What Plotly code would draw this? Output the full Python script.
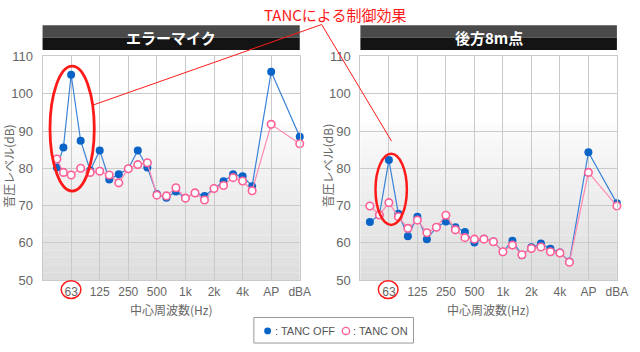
import plotly.graph_objects as go

# ---------------- data ----------------
tick_pos = [1, 2, 3, 4, 5, 6, 7, 8, 9]
tick_labels = ["63", "125", "250", "500", "1k", "2k", "4k", "AP", "dBA"]

# band positions (1 unit = 1 octave column; 63 Hz = 1, AP = 8, dBA = 9)
third = [1 + k / 3 for k in range(20)]          # 63 Hz .. 5 kHz
left_pos = [0.5, 0.73] + third + [8, 9]
right_pos = [1 / 3, 2 / 3] + third + [8, 9]

left_off = [80.2, 85.6, 105.1, 87.4, 79.4, 84.8, 77.0, 78.4, 79.9, 84.8, 80.2, 73.1,
            72.1, 73.8, 72.0, 73.4, 72.6, 74.6, 76.5, 78.4, 77.9, 75.2, 105.9, 88.5]
left_on = [82.5, 78.9, 78.2, 80.0, 78.9, 79.2, 78.2, 76.1, 79.9, 81.0, 81.5, 72.8,
           72.6, 74.8, 72.0, 73.4, 71.5, 74.6, 75.4, 77.5, 76.6, 74.0, 91.8, 86.6]

right_off = [65.6, 67.5, 82.2, 67.8, 61.8, 67.0, 61.0, 64.2, 65.7, 64.2, 62.9, 60.1,
             61.1, 60.4, 57.6, 60.6, 56.7, 58.8, 59.8, 58.4, 57.4, 55.0, 84.3, 70.6]
right_on = [69.9, 67.5, 70.8, 67.0, 63.9, 66.1, 62.7, 64.2, 67.4, 63.5, 61.4, 61.0,
            61.0, 60.3, 57.6, 59.4, 56.8, 58.5, 58.9, 57.6, 57.3, 54.8, 78.9, 69.9]

titles = ["エラーマイク", "後方8m点"]
y_title = "音圧レベル(dB)"
x_title = "中心周波数(Hz)"
callout = "TANCによる制御効果"
legend_names = [": TANC OFF", ": TANC ON"]

# ---------------- styling ----------------
W, H = 640, 352
BLUE = "#0a64c8"
BLUE_LINE = "#3a82d6"
PINK = "#ff5f97"
PINK_LINE = "#ff86ae"
RED = "#ff1a1a"
TXT = "#666666"
LAT = "Liberation Sans, Arial, sans-serif"
CJK = "Noto Sans CJK JP, sans-serif"

def px(x):
    return x / W

def py(y):
    return 1 - y / H

dom_left = [px(43.3), px(305)]
dom_right = [px(366.7), px(627.7)]
dom_y = [py(285.3), py(51.7)]

fig = go.Figure()

for i, (pos, off, on) in enumerate([(left_pos, left_off, left_on),
                                     (right_pos, right_off, right_on)]):
    xa = "x" if i == 0 else "x2"
    ya = "y" if i == 0 else "y2"
    fig.add_trace(go.Scatter(x=pos, y=off, mode="lines+markers", xaxis=xa, yaxis=ya,
                             line=dict(color=BLUE_LINE, width=1.2),
                             marker=dict(color=BLUE, size=8, line=dict(width=0)),
                             cliponaxis=False, showlegend=False, name=legend_names[0]))
    fig.add_trace(go.Scatter(x=pos, y=on, mode="lines+markers", xaxis=xa, yaxis=ya,
                             line=dict(color=PINK_LINE, width=1.2),
                             marker=dict(color="white", size=7.5,
                                         line=dict(color=PINK, width=1.6)),
                             cliponaxis=False, showlegend=False, name=legend_names[1]))

axis_common = dict(range=[0, 9], tickvals=tick_pos, ticktext=tick_labels,
                   showgrid=True, gridcolor="#cacaca", gridwidth=1,
                   showline=True, linecolor="#cacaca", mirror=True, zeroline=False,
                   ticks="", tickfont=dict(family=LAT, size=12, color=TXT))
yaxis_common = dict(range=[50, 110], dtick=10, showgrid=True, gridcolor="#cacaca",
                    showline=True, linecolor="#cacaca", mirror=True, zeroline=False,
                    ticks="", ticklabelstandoff=6,
                    tickfont=dict(family=LAT, size=13, color=TXT))

fig.update_layout(
    width=W, height=H, margin=dict(l=0, r=0, t=0, b=0),
    paper_bgcolor="white", plot_bgcolor="white", showlegend=False,
    xaxis=dict(domain=dom_left, anchor="y", **axis_common),
    yaxis=dict(domain=dom_y, anchor="x", **yaxis_common),
    xaxis2=dict(domain=dom_right, anchor="y2", **axis_common),
    yaxis2=dict(domain=dom_y, anchor="x2", **yaxis_common),
)

shapes = []
annotations = []

# background gradient (below grid)
for xd in ["x domain", "x2 domain"]:
    ya = "y" if xd == "x domain" else "y2"
    steps = 21
    for k in range(steps):
        v0 = 50 + k * 2
        v1 = v0 + 2
        t = (92 - v1) / 42
        g = int(round(251 - t * 32))
        shapes.append(dict(type="rect", xref=xd, yref=ya, x0=0, x1=1, y0=v0, y1=v1,
                           fillcolor=f"rgb({g},{g},{g})", line=dict(width=0),
                           layer="below"))

# title bars
for (x0, x1), title in zip([(43.3, 305), (366.7, 627.7)], titles):
    shapes.append(dict(type="rect", xref="paper", yref="paper",
                       x0=px(x0), x1=px(x1), y0=py(32), y1=py(19),
                       fillcolor="#4a4a4a", line=dict(width=0)))
    shapes.append(dict(type="rect", xref="paper", yref="paper",
                       x0=px(x0), x1=px(x1), y0=py(45), y1=py(32),
                       fillcolor="#141414", line=dict(width=0)))
    annotations.append(dict(text=f"<b>{title}</b>", xref="paper", yref="paper",
                            x=px((x0 + x1) / 2), y=py(32), xanchor="center",
                            yanchor="middle", showarrow=False,
                            font=dict(family=CJK, size=15, color="white")))

# axis titles
for cx, ax_x in [(174, 9), (497, 334)]:
    annotations.append(dict(text=x_title, xref="paper", yref="paper",
                            x=px(cx), y=py(316), xanchor="center", yanchor="middle",
                            showarrow=False, font=dict(family=CJK, size=12, color=TXT)))
    annotations.append(dict(text=y_title, xref="paper", yref="paper",
                            x=px(ax_x), y=py(166), xanchor="center", yanchor="middle",
                            textangle=-90, showarrow=False,
                            font=dict(family=CJK, size=12, color=TXT)))

# callout text and lines
annotations.append(dict(text=callout, xref="paper", yref="paper", x=px(341), y=py(8),
                        xanchor="center", yanchor="middle", showarrow=False,
                        font=dict(family=CJK, size=15, color=RED)))
for (x1, y1) in [(95, 102.3), (398.3, 140)]:
    shapes.append(dict(type="line", xref="paper", yref="paper",
                       x0=px(327.3), y0=py(18.3), x1=px(x1), y1=py(y1),
                       line=dict(color=RED, width=1)))

# ellipses around the 63 Hz peak (data coords)
shapes.append(dict(type="circle", xref="x", yref="y", x0=0.26, x1=1.81,
                   y0=73.9, y1=107.4, line=dict(color=RED, width=2.8)))
shapes.append(dict(type="circle", xref="x2", yref="y2", x0=0.53, x1=1.63,
                   y0=64.8, y1=83.9, line=dict(color=RED, width=2.5)))
# small circles around "63" tick labels
for cx in [72.3, 395]:
    shapes.append(dict(type="circle", xref="paper", yref="paper",
                       x0=px(cx - 10), x1=px(cx + 10), y0=py(304.5), y1=py(286),
                       line=dict(color=RED, width=1.5)))

# legend box
shapes.append(dict(type="rect", xref="paper", yref="paper", x0=px(258.3), x1=px(420.7),
                   y0=py(351), y1=py(324.3), line=dict(color="#999999", width=1),
                   fillcolor="white"))
shapes.append(dict(type="circle", xref="paper", yref="paper",
                   x0=px(268.8), x1=px(275.8), y0=py(341.8), y1=py(334.8),
                   fillcolor=BLUE, line=dict(width=0)))
shapes.append(dict(type="circle", xref="paper", yref="paper",
                   x0=px(348.3), x1=px(355.7), y0=py(342), y1=py(334.6),
                   fillcolor="white", line=dict(color=PINK, width=1.4)))
for xt, name in [(277.5, legend_names[0]), (357, legend_names[1])]:
    annotations.append(dict(text=name, xref="paper", yref="paper", x=px(xt), y=py(338.3),
                            xanchor="left", yanchor="middle", showarrow=False,
                            font=dict(family=LAT, size=11, color="#555555")))

fig.update_layout(shapes=shapes, annotations=annotations)
fig.write_html("out.html")
